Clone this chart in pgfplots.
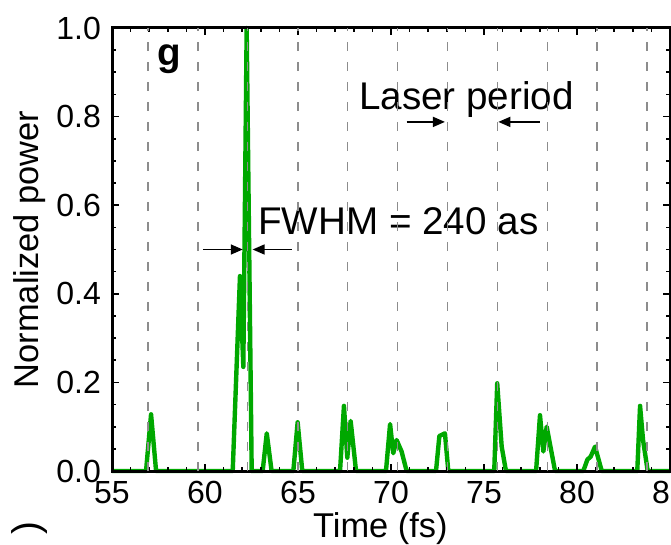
\documentclass[border=0pt]{standalone}
\usepackage{fontspec}
\setmainfont{Liberation Sans}
\usepackage{pgfplots}
\pgfplotsset{compat=1.18}
\usetikzlibrary{arrows.meta,calc}
\definecolor{pulse}{RGB}{0,168,0}
\newcommand\fs{\fontsize{16pt}{19pt}\selectfont}
\newcommand\fl{\fontsize{17.2pt}{20pt}\selectfont}
\newcommand\fa{\fontsize{19.3pt}{23pt}\selectfont}

\begin{document}
\begin{tikzpicture}[font=\fs]
\begin{axis}[
    width=279pt, height=221.5pt, scale only axis,
    xmin=55, xmax=85, ymin=0, ymax=1,
    xtick={55,60,...,85}, minor x tick num=4,
    ytick={0,0.2,...,1.0}, minor y tick num=3,
    yticklabel style={xshift=-2pt, /pgf/number format/fixed,
        /pgf/number format/fixed zerofill, /pgf/number format/precision=1},
    /pgf/number format/assume math mode=true,
    tick label style={font=\fs},
    xticklabel style={yshift=-1.5pt},
    axis line style={line width=1.5pt},
    major tick length=3.5pt, minor tick length=2pt,
    every tick/.style={black, line width=0.8pt},
    xlabel={Time (fs)}, ylabel={Normalized power},
    label style={font=\fl},
    xlabel style={at={(axis description cs:0.481,-0.1512)}, anchor=base},
    ylabel style={at={(axis description cs:-0.147,0.5)}, anchor=center},
    extra x ticks={56.94,59.62,62.30,64.99,67.67,70.35,73.03,75.71,78.40,81.08,83.76},
    extra x tick labels={},
    extra x tick style={grid=major, major tick length=0pt,
        major grid style={gray!90, line width=0.7pt, dash pattern=on 4.5pt off 5.5pt}},
    axis on top,
    clip=false,
]
\addplot[pulse, line width=2.2pt, line join=round] coordinates {
(55,0) (56.83,0) (57.1,0.128) (57.37,0)
(61.49,0) (61.88,0.44) (62.06,0.235) (62.24,1.0) (62.51,0)
(63.1,0) (63.32,0.085) (63.58,0)
(64.75,0) (64.98,0.11) (65.23,0)
(67.26,0) (67.47,0.147) (67.65,0.03) (67.83,0.113) (68.12,0)
(69.73,0) (69.95,0.106) (70.12,0.04) (70.3,0.07) (70.57,0.044) (70.84,0)
(72.42,0) (72.6,0.079) (72.9,0.085) (73.08,0)
(75.55,0) (75.71,0.198) (75.95,0.055) (76.18,0)
(77.8,0) (78.01,0.126) (78.19,0.044) (78.37,0.1) (78.82,0)
(80.34,0) (80.56,0.026) (80.73,0.032) (80.97,0.055) (81.33,0)
(83.24,0) (83.39,0.147) (83.55,0.07) (83.8,0) (85,0)
};
\node[font=\fa\bfseries, anchor=base] at (axis cs:58.06,0.916) {g};
\node[font=\fa, anchor=base] at (axis cs:74.06,0.815) {Laser period};
\node[font=\fa, anchor=base west, inner sep=0pt] at (axis cs:62.85,0.533) {FWHM = 240 as};
\draw[-{Triangle[length=6pt,width=5pt]}, line width=0.8pt] (axis cs:70.84,0.788) -- (axis cs:72.9,0.788);
\draw[-{Triangle[length=6pt,width=5pt]}, line width=0.8pt] (axis cs:78.0,0.788) -- (axis cs:75.77,0.788);
\draw[-{Triangle[length=6pt,width=5pt]}, line width=0.8pt] (axis cs:59.88,0.5) -- (axis cs:62.03,0.5);
\draw[-{Triangle[length=6pt,width=5pt]}, line width=0.8pt] (axis cs:64.66,0.5) -- (axis cs:62.56,0.5);
\coordinate (sw) at (rel axis cs:0,0);
\coordinate (ne) at (rel axis cs:1,1);
\end{axis}
\node[font=\fa, rotate=90, anchor=east, inner sep=0pt] at ($(sw)+(-41pt,-25pt)$) {)};
\pgfresetboundingbox
\useasboundingbox ($(sw)+(-56pt,-36.5pt)$) rectangle ($(ne)+(0.5pt,14pt)$);
\end{tikzpicture}
\end{document}
